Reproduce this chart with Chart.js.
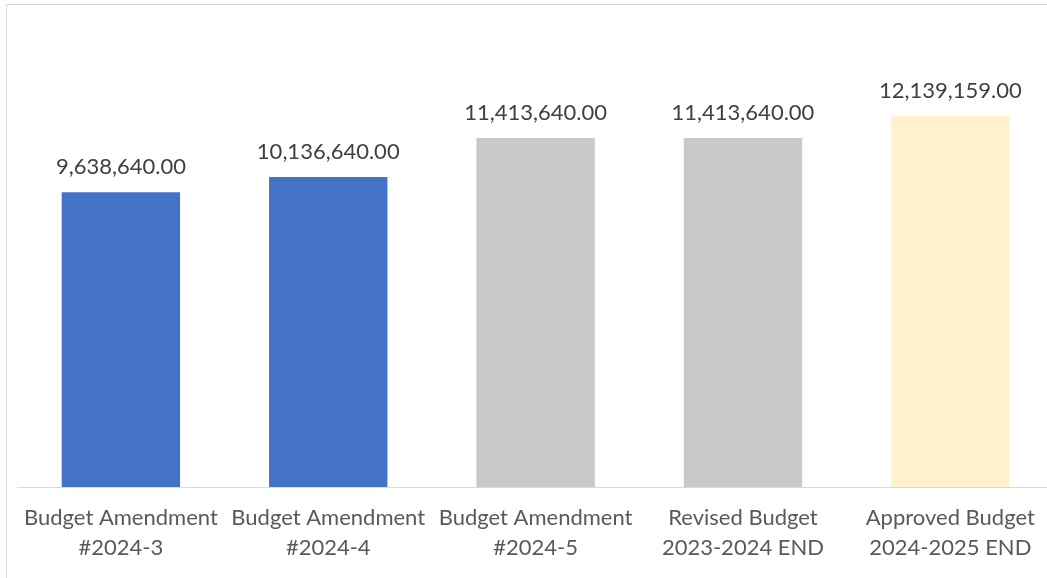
<!DOCTYPE html>
<html>
<head>
<meta charset="utf-8">
<script src="https://cdn.jsdelivr.net/npm/chart.js@4/dist/chart.umd.min.js"></script>
<style>
  html, body { margin: 0; padding: 0; background: #fff; overflow: hidden; }
  #box {
    position: absolute; left: 6px; top: 4px;
    width: 1047px; height: 600px;
    border: 1px solid #d9d9d9; background: #fff;
  }
  #chart { display: block; }
</style>
</head>
<body>
<div id="box"><canvas id="chart" width="1047" height="600"></canvas></div>
<script>
// 数据
const categories = [
  ['Budget Amendment', '#2024-3'],
  ['Budget Amendment', '#2024-4'],
  ['Budget Amendment', '#2024-5'],
  ['Revised Budget', '2023-2024 END'],
  ['Approved Budget', '2024-2025 END']
];
const amounts = [9638640, 10136640, 11413640, 11413640, 12139159];
const barColors = ['#4472C4', '#4472C4', '#C9C9C9', '#C9C9C9', '#FFF2CC'];

const fontFamily = 'Lato, "Liberation Sans", sans-serif';

// 柱顶数值标签
const valueLabels = {
  id: 'valueLabels',
  afterDatasetsDraw(chart) {
    const ctx = chart.ctx;
    const meta = chart.getDatasetMeta(0);
    ctx.save();
    ctx.font = '22px ' + fontFamily;
    ctx.fillStyle = '#404040';
    ctx.textAlign = 'center';
    ctx.textBaseline = 'middle';
    meta.data.forEach(function(bar, i) {
      const txt = amounts[i].toLocaleString('en-US', { minimumFractionDigits: 2, maximumFractionDigits: 2 });
      ctx.fillText(txt, bar.x, bar.y - 25);
    });
    ctx.restore();
  }
};

new Chart(document.getElementById('chart'), {
  type: 'bar',
  data: {
    labels: categories,
    datasets: [{
      data: amounts,
      backgroundColor: barColors,
      borderWidth: 0,
      barPercentage: 0.571,
      categoryPercentage: 1
    }]
  },
  options: {
    responsive: false,
    animation: false,
    events: [],
    layout: { padding: { left: 10, right: 0, top: 54, bottom: 18 } },
    plugins: { legend: { display: false }, tooltip: { enabled: false } },
    scales: {
      x: {
        grid: { display: false, drawTicks: false },
        border: { display: true, color: '#d9d9d9', width: 1 },
        ticks: {
          color: '#595959',
          font: { family: fontFamily, size: 22, lineHeight: 1.36 },
          padding: 16,
          maxRotation: 0,
          autoSkip: false
        },
        afterFit(scale) { scale.height = 100; }
      },
      y: {
        display: false,
        min: 0,
        max: 14000000
      }
    }
  },
  plugins: [valueLabels]
});
</script>
</body>
</html>
